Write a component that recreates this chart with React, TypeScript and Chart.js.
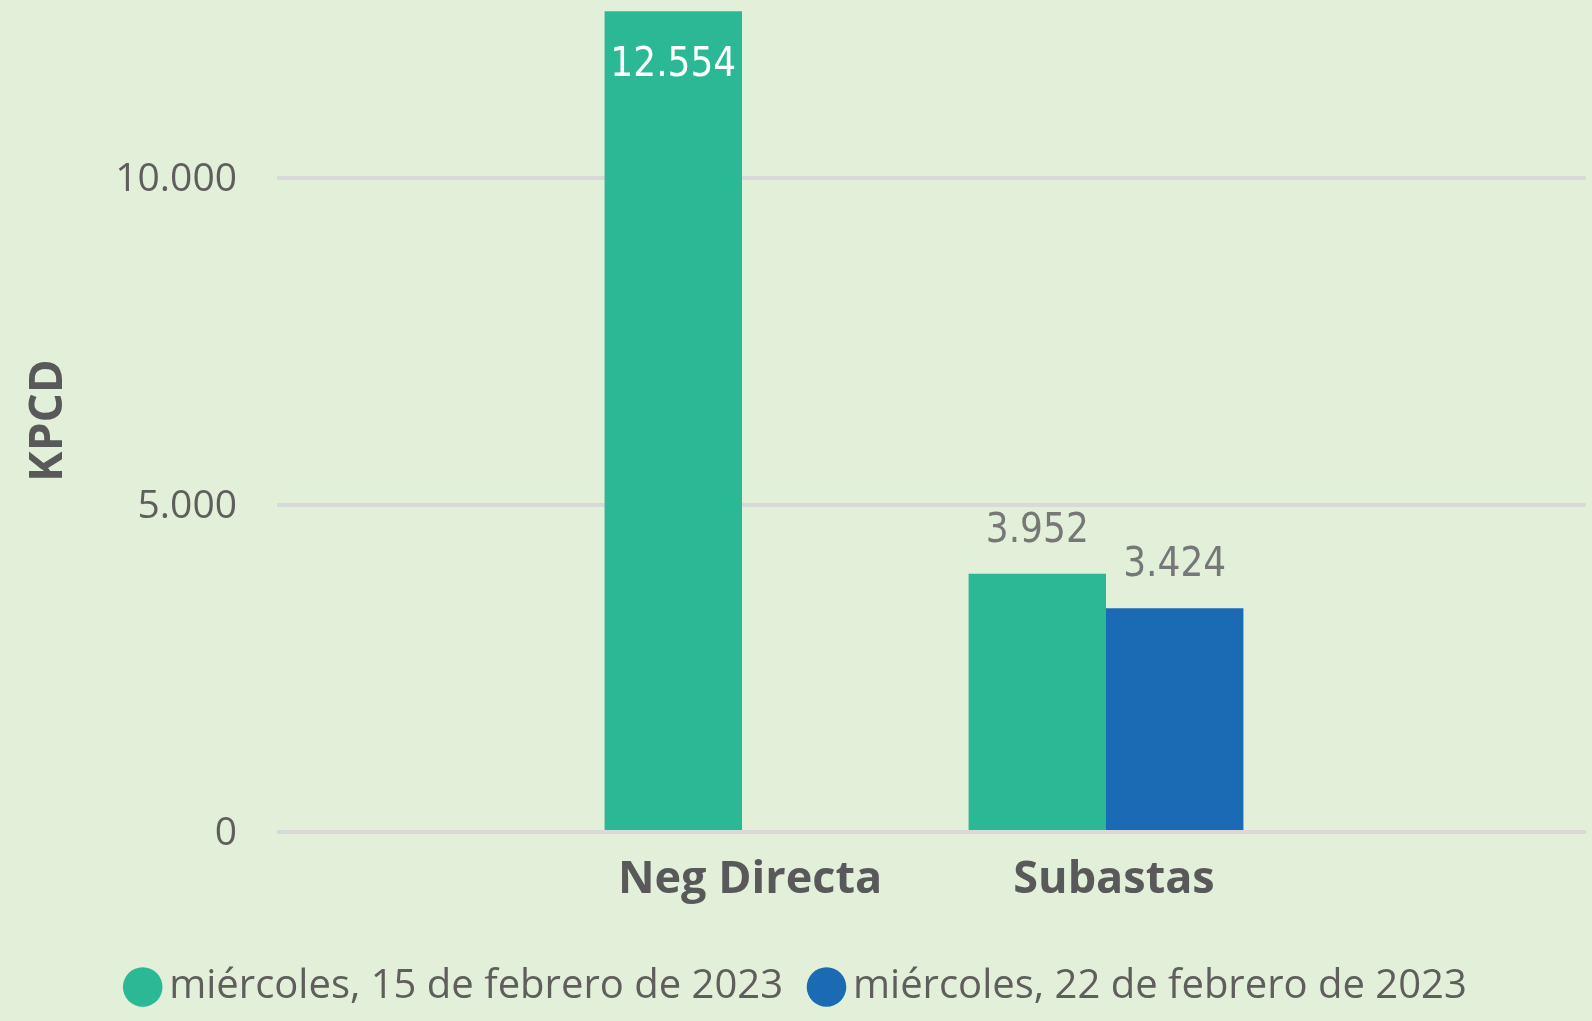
import React, { useEffect, useRef } from 'react';
import { Chart, registerables } from 'chart.js';

Chart.register(...registerables);

// ---- data ----
const CATEGORIES: string[] = ['Neg Directa', 'Subastas'];
const SERIES_NAMES: string[] = ['miércoles, 15 de febrero de 2023', 'miércoles, 22 de febrero de 2023'];
const SERIES_15_FEB: (number | null)[] = [12554, 3952];
const SERIES_22_FEB: (number | null)[] = [null, 3424];
const Y_TICKS: number[] = [0, 5000, 10000];
const Y_TITLE = 'KPCD';

// ---- styles ----
const BG = '#E2EFD9';
const COLORS = ['#2BB894', '#1A6BB4'];
const GRID = '#D9D9D9';
const TICK_COLOR = '#605E5C';
const TITLE_COLOR = '#595959';
const LABEL_GRAY = '#777777';
const SANS = '"Open Sans", "Noto Sans", sans-serif';
const DIN = '"DejaVu Sans Condensed", "DejaVu Sans", sans-serif';

const fmt = (n: number): string => {
  const s = String(Math.round(n));
  return s.replace(/\B(?=(\d{3})+(?!\d))/g, '.');
};

const ALL_SERIES = [SERIES_15_FEB, SERIES_22_FEB];

const dataLabelPlugin = {
  id: 'dataLabels',
  afterDatasetsDraw(chart: any) {
    const ctx = chart.ctx as CanvasRenderingContext2D;
    chart.data.datasets.forEach((_ds: any, di: number) => {
      const meta = chart.getDatasetMeta(di);
      meta.data.forEach((el: any, i: number) => {
        const v = ALL_SERIES[di][i];
        if (v == null) return;
        const { x, y } = el.getProps(['x', 'y'], true);
        const inside = y - 70 < chart.chartArea.top;
        ctx.save();
        ctx.font = `40px ${DIN}`;
        ctx.textAlign = 'center';
        ctx.textBaseline = 'alphabetic';
        ctx.fillStyle = inside ? '#FFFFFF' : LABEL_GRAY;
        ctx.fillText(fmt(v), x, inside ? y + 65 : y - 32);
        ctx.restore();
      });
    });
  },
};

export default function App() {
  const canvasRef = useRef<HTMLCanvasElement | null>(null);

  useEffect(() => {
    document.body.style.margin = '0';
    const canvas = canvasRef.current;
    if (!canvas) return;

    const datasets = ALL_SERIES.map((series, si) => ({
      label: SERIES_NAMES[si],
      data: CATEGORIES.map((_, i) => ({ x: i + 1, y: series[i] })),
      backgroundColor: COLORS[si],
      borderWidth: 0,
      categoryPercentage: 0.755,
      barPercentage: 1,
    }));

    const chart = new Chart(canvas, {
      type: 'bar',
      data: { datasets: datasets as any },
      plugins: [dataLabelPlugin],
      options: {
        responsive: false,
        animation: false,
        layout: { padding: { left: 17, right: 6, top: 9, bottom: 4 } },
        plugins: {
          tooltip: { enabled: false },
          legend: {
            position: 'bottom',
            labels: {
              usePointStyle: true,
              pointStyle: 'circle',
              boxWidth: 13,
              boxHeight: 28,
              padding: 37,
              color: TICK_COLOR,
              font: { family: SANS, size: 40 },
            },
          },
        },
        scales: {
          x: {
            type: 'linear',
            min: -0.2775,
            max: 3.3187,
            offset: false,
            grid: { display: false, drawTicks: false },
            border: { display: false },
            afterBuildTicks: (scale: any) => {
              scale.ticks = CATEGORIES.map((_, i) => ({ value: i + 1 }));
            },
            afterFit: (scale: any) => {
              scale.height = 98;
              scale.paddingLeft = 0;
              scale.paddingRight = 0;
            },
            ticks: {
              autoSkip: false,
              maxRotation: 0,
              minRotation: 0,
              padding: 21,
              labelOffset: 8,
              color: TITLE_COLOR,
              font: { family: SANS, size: 45, weight: 'bold' },
              callback: (value: any) => CATEGORIES[Math.round(Number(value)) - 1] ?? '',
            },
          },
          y: {
            type: 'linear',
            min: 0,
            max: 12590,
            grid: { color: GRID, lineWidth: 4, drawTicks: false },
            border: { display: false },
            afterBuildTicks: (scale: any) => {
              scale.ticks = Y_TICKS.map((v) => ({ value: v }));
            },
            afterFit: (scale: any) => {
              scale.width = 260;
              scale.paddingTop = 0;
              scale.paddingBottom = 0;
            },
            ticks: {
              padding: 40,
              labelOffset: 2,
              color: TICK_COLOR,
              font: { family: SANS, size: 39 },
              callback: (value: any) => fmt(Number(value)),
            },
            title: {
              display: true,
              text: Y_TITLE,
              color: TITLE_COLOR,
              font: { family: SANS, size: 46, weight: 'bold' },
              padding: { top: 4, bottom: 4 },
            },
          },
        },
      } as any,
    });

    return () => chart.destroy();
  }, []);

  return (
    <div style={{ position: 'fixed', left: 0, top: 0, width: 1592, height: 1021, background: BG }}>
      <canvas ref={canvasRef} width={1592} height={1021} style={{ display: 'block', width: 1592, height: 1021 }} />
    </div>
  );
}
